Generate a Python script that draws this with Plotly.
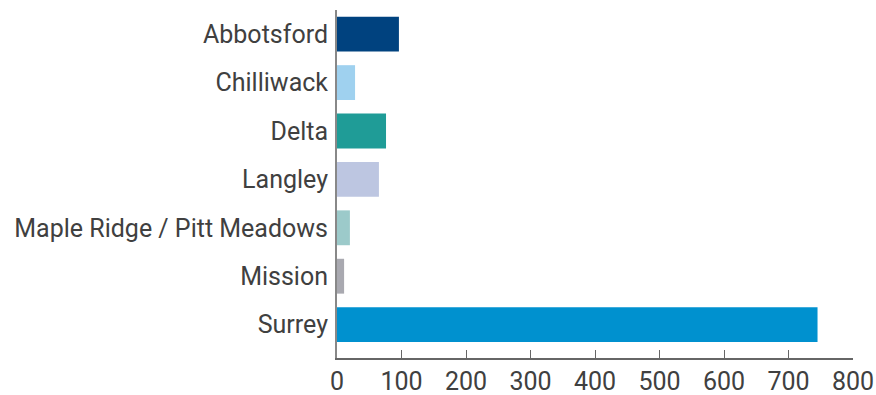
import plotly.graph_objects as go

categories = ["Abbotsford", "Chilliwack", "Delta", "Langley",
              "Maple Ridge / Pitt Meadows", "Mission", "Surrey"]
values = [96, 28, 76, 65, 20, 11, 745]
colors = ["#00427f", "#9fd1ef", "#1f9c97", "#bdc6e1", "#9ccaca", "#a9a9b0", "#0091cf"]
x_ticks = [0, 100, 200, 300, 400, 500, 600, 700, 800]

fig = go.Figure(go.Bar(
    y=categories, x=values, orientation="h",
    marker=dict(color=colors, line=dict(width=0)),
    width=0.72,
))

fig.update_layout(
    width=876, height=395,
    margin=dict(l=337, r=23, t=10, b=37),
    paper_bgcolor="white", plot_bgcolor="white",
    font=dict(family="Roboto", size=25, color="#404040"),
    showlegend=False,
)
fig.update_xaxes(
    range=[0, 800], tickvals=x_ticks, ticks="inside", ticklen=8,
    tickcolor="#666666", showline=True, linecolor="#666666", linewidth=1.5,
    showgrid=False, zeroline=False, automargin=False,
)
fig.update_yaxes(
    categoryorder="array", categoryarray=categories,
    range=[6.5 + 0.19, -0.5], showline=True, linecolor="#888888", linewidth=2,
    ticks="", showgrid=False, zeroline=False, ticklabelstandoff=2,
    automargin=False,
)

fig.write_html("out.html")
